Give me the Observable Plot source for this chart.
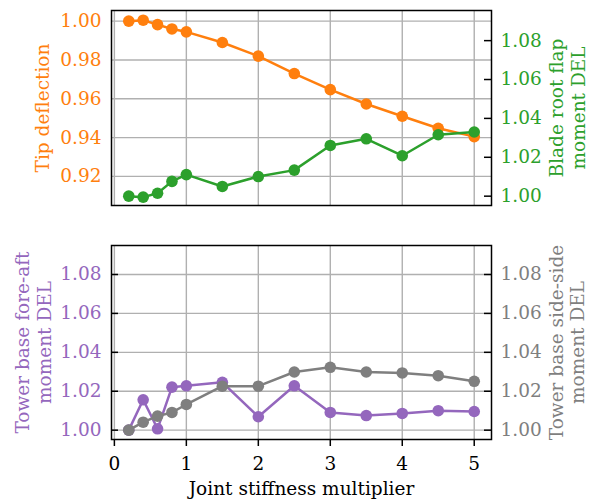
<!DOCTYPE html>
<html><head><meta charset="utf-8">
<script src="https://cdn.jsdelivr.net/npm/d3@7"></script>
<script src="https://cdn.jsdelivr.net/npm/@observablehq/plot@0.6"></script>
<style>body{margin:0;background:#fff} #chart svg{display:block}</style>
</head><body><div id="chart"></div>
<script>
// ---- data ----
const multiplier = [0.2, 0.4, 0.6, 0.8, 1.0, 1.5, 2, 2.5, 3, 3.5, 4, 4.5, 5];
const tipDeflection = [1.000, 1.0005, 0.9982, 0.996, 0.9945, 0.989, 0.982, 0.973, 0.9647, 0.9573, 0.951, 0.9448, 0.9405];
const bladeRootFlapDEL = [1.000, 0.9995, 1.0015, 1.0076, 1.0111, 1.005, 1.0101, 1.0134, 1.0261, 1.0295, 1.0208, 1.0316, 1.033];
const towerForeAftDEL = [1.000, 1.0156, 1.0007, 1.0221, 1.0228, 1.0246, 1.0069, 1.0228, 1.0091, 1.0075, 1.0086, 1.0100, 1.0096];
const towerSideSideDEL = [1.000, 1.0041, 1.0072, 1.0091, 1.0132, 1.0226, 1.0226, 1.0299, 1.0323, 1.0299, 1.0294, 1.0280, 1.0251];
const xTicks = [0, 1, 2, 3, 4, 5];
const tipTicks = [0.92, 0.94, 0.96, 0.98, 1.00];
const delTicks = [1.00, 1.02, 1.04, 1.06, 1.08];

// ---- styling ----
const font = "DejaVu Serif";
const fs = 18.5;
const orange = "#ff7f0e", green = "#2ca02c", purple = "#9467bd", gray = "#7f7f7f";
const gridColor = "#b0b0b0";
const W = 591, mL = 111, mR = 100, plotW = W - mL - mR;
const tickLen = 7;
const lh = 1.17;
const dotR = 5.8;

const xDomain = [-0.04, 5.24];
const tipDomain = [0.905, 1.0055];
const bladeDomain = [0.9952, 1.0955];
const towerDomain = [0.9952, 1.0949];
const toTip = v => tipDomain[0] + (v - bladeDomain[0]) * (tipDomain[1] - tipDomain[0]) / (bladeDomain[1] - bladeDomain[0]);
const fromTip = v => bladeDomain[0] + (v - tipDomain[0]) * (bladeDomain[1] - bladeDomain[0]) / (tipDomain[1] - tipDomain[0]);

const rows = multiplier.map((m, i) => ({
  m, tip: tipDeflection[i], blade: bladeRootFlapDEL[i],
  fa: towerForeAftDEL[i], ss: towerSideSideDEL[i]
}));

const gridStyle = {stroke: gridColor, strokeOpacity: 1, strokeWidth: 1.4};
const rotLabel = (txt, anchor, dx, fill) =>
  Plot.text([txt], {frameAnchor: anchor, rotate: -90, dx, fill, fontSize: fs, lineHeight: lh, textAnchor: "middle", lineAnchor: "middle"});

const topPlot = Plot.plot({
  width: W, height: 230, marginTop: 10, marginBottom: 25, marginLeft: mL, marginRight: mR,
  style: {fontFamily: font, fontSize: fs + "px", background: "white", overflow: "visible"},
  x: {domain: xDomain, axis: null},
  y: {domain: tipDomain, axis: null},
  marks: [
    Plot.gridX(xTicks, gridStyle),
    Plot.gridY(tipTicks, gridStyle),
    Plot.line(rows, {x: "m", y: "tip", stroke: orange, strokeWidth: 2.5}),
    Plot.dot(rows, {x: "m", y: "tip", fill: orange, r: dotR}),
    Plot.line(rows, {x: "m", y: d => toTip(d.blade), stroke: green, strokeWidth: 2.5}),
    Plot.dot(rows, {x: "m", y: d => toTip(d.blade), fill: green, r: dotR}),
    Plot.frame({stroke: "black", strokeWidth: 1.5}),
    Plot.tickY(delTicks.map(toTip), {y: d => d, insetLeft: plotW - tickLen, stroke: "black", strokeWidth: 1.5}),
    Plot.axisY(tipTicks, {anchor: "left", tickSize: 0, tickPadding: 10, color: orange, label: null, tickFormat: d => d.toFixed(2), fontSize: fs}),
    Plot.axisY(delTicks.map(toTip), {anchor: "right", tickSize: 0, tickPadding: 9, color: green, label: null, tickFormat: d => fromTip(d).toFixed(2), fontSize: fs}),
    rotLabel("Tip deflection", "left", -69, orange),
    rotLabel("Blade root flap\nmoment DEL", "right", 75.5, green)
  ]
});

const bottomPlot = Plot.plot({
  width: W, height: 271, marginTop: 15, marginBottom: 62, marginLeft: mL, marginRight: mR,
  style: {fontFamily: font, fontSize: fs + "px", background: "white", overflow: "visible"},
  x: {domain: xDomain, axis: null},
  y: {domain: towerDomain, axis: null},
  marks: [
    Plot.gridX(xTicks, gridStyle),
    Plot.gridY(delTicks, gridStyle),
    Plot.line(rows, {x: "m", y: "fa", stroke: purple, strokeWidth: 2.5}),
    Plot.dot(rows, {x: "m", y: "fa", fill: purple, r: dotR}),
    Plot.line(rows, {x: "m", y: "ss", stroke: gray, strokeWidth: 2.5}),
    Plot.dot(rows, {x: "m", y: "ss", fill: gray, r: dotR}),
    Plot.frame({stroke: "black", strokeWidth: 1.5}),
    Plot.tickY(delTicks, {y: d => d, insetRight: plotW - tickLen, stroke: "black", strokeWidth: 1.5}),
    Plot.tickY(delTicks, {y: d => d, insetLeft: plotW - tickLen, stroke: "black", strokeWidth: 1.5}),
    Plot.axisY(delTicks, {anchor: "left", tickSize: 0, tickPadding: 10, color: purple, label: null, tickFormat: d => d.toFixed(2), fontSize: fs}),
    Plot.axisY(delTicks, {anchor: "right", tickSize: 0, tickPadding: 9, color: gray, label: null, tickFormat: d => d.toFixed(2), fontSize: fs}),
    Plot.axisX(xTicks, {anchor: "bottom", tickSize: tickLen, tickPadding: 10, stroke: "black", fill: "black", strokeWidth: 1.5, label: null, tickFormat: d => String(d), fontSize: fs}),
    Plot.text(["Joint stiffness multiplier"], {frameAnchor: "bottom", dy: 50, fill: "black", fontSize: fs, lineAnchor: "middle"}),
    rotLabel("Tower base fore-aft\nmoment DEL", "left", -78.5, purple),
    rotLabel("Tower base side-side\nmoment DEL", "right", 75.2, gray)
  ]
});

const chart = document.getElementById("chart");
chart.appendChild(topPlot);
chart.appendChild(bottomPlot);
</script>
</body></html>
